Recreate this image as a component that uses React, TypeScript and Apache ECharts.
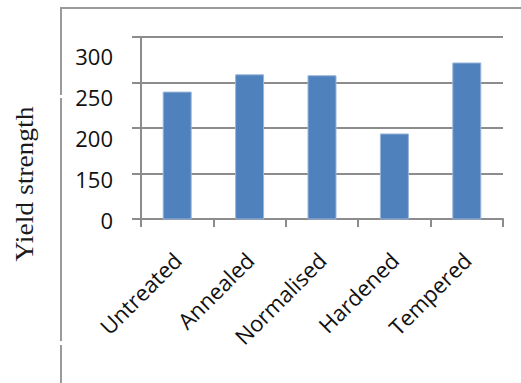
import React, { useEffect, useRef } from "react";
import * as echarts from "echarts";

const categories = ["Untreated", "Annealed", "Normalised", "Hardened", "Tempered"];
const yieldStrength = [240, 259, 258, 194, 272];
const tickLabels = ["0", "150", "200", "250", "300"];
const axisMin = 100;
const axisMax = 300;
const axisStep = 50;

export default function App() {
  const ref = useRef<HTMLDivElement>(null);
  useEffect(() => {
    if (!ref.current) return;
    const chart = echarts.init(ref.current, undefined, { renderer: "svg" });
    const gray = "#8c8c8c";
    chart.setOption({
      animation: false,
      backgroundColor: "#ffffff",
      grid: [
        { left: 141, right: 18, top: 37, bottom: 164 },
        { left: 141, right: 18, top: 56, bottom: 163 },
      ],
      xAxis: [
        {
          type: "category",
          gridIndex: 0,
          data: categories,
          boundaryGap: true,
          axisLine: { lineStyle: { color: gray, width: 2 } },
          axisTick: { show: true, length: 8, lineStyle: { color: gray, width: 2 }, alignWithLabel: false },
          axisLabel: {
            interval: 0,
            rotate: 45,
            margin: 37,
            fontFamily: "Open Sans",
            fontSize: 22,
            color: "#111",
          },
        },
        { type: "value", gridIndex: 1, show: false },
      ],
      yAxis: [
        {
          type: "value",
          gridIndex: 0,
          min: axisMin,
          max: axisMax,
          interval: axisStep,
          axisLine: { show: true, lineStyle: { color: gray, width: 2 } },
          axisTick: { show: true, length: 9, lineStyle: { color: gray, width: 2 } },
          axisLabel: { show: false },
          splitLine: { show: true, lineStyle: { color: gray, width: 2 } },
        },
        {
          type: "category",
          gridIndex: 1,
          data: tickLabels,
          boundaryGap: false,
          axisLine: { show: false },
          axisTick: { show: false },
          splitLine: { show: false },
          axisLabel: {
            margin: 28,
            fontFamily: "Open Sans",
            fontSize: 22,
            color: "#111",
          },
        },
      ],
      series: [
        {
          type: "bar",
          xAxisIndex: 0,
          yAxisIndex: 0,
          data: yieldStrength,
          barWidth: 29,
          clip: true,
          itemStyle: { color: "#4f81bd", borderColor: "#9bb5db", borderWidth: 1 },
        },
      ],
      graphic: [
        { type: "line", shape: { x1: 60, y1: 8, x2: 521, y2: 8 }, style: { stroke: "#9a9a9a", lineWidth: 2 } },
        { type: "line", shape: { x1: 61, y1: 7, x2: 61, y2: 95 }, style: { stroke: "#9a9a9a", lineWidth: 2 } },
        { type: "line", shape: { x1: 61, y1: 98, x2: 61, y2: 341 }, style: { stroke: "#9a9a9a", lineWidth: 2 } },
        { type: "line", shape: { x1: 61, y1: 345, x2: 61, y2: 383 }, style: { stroke: "#9a9a9a", lineWidth: 2 } },
        {
          type: "text",
          x: 25,
          y: 184,
          rotation: Math.PI / 2,
          scaleX: 1.1,
          style: {
            text: "Yield strength",
            fontFamily: "Liberation Serif",
            fontSize: 25,
            fontWeight: "normal",
            fill: "#1a1a1a",
            align: "center",
            verticalAlign: "middle",
          },
        },
      ],
    });
    return () => chart.dispose();
  }, []);
  return <div ref={ref} style={{ width: 521, height: 383, position: "absolute", left: 0, top: 0 }} />;
}
